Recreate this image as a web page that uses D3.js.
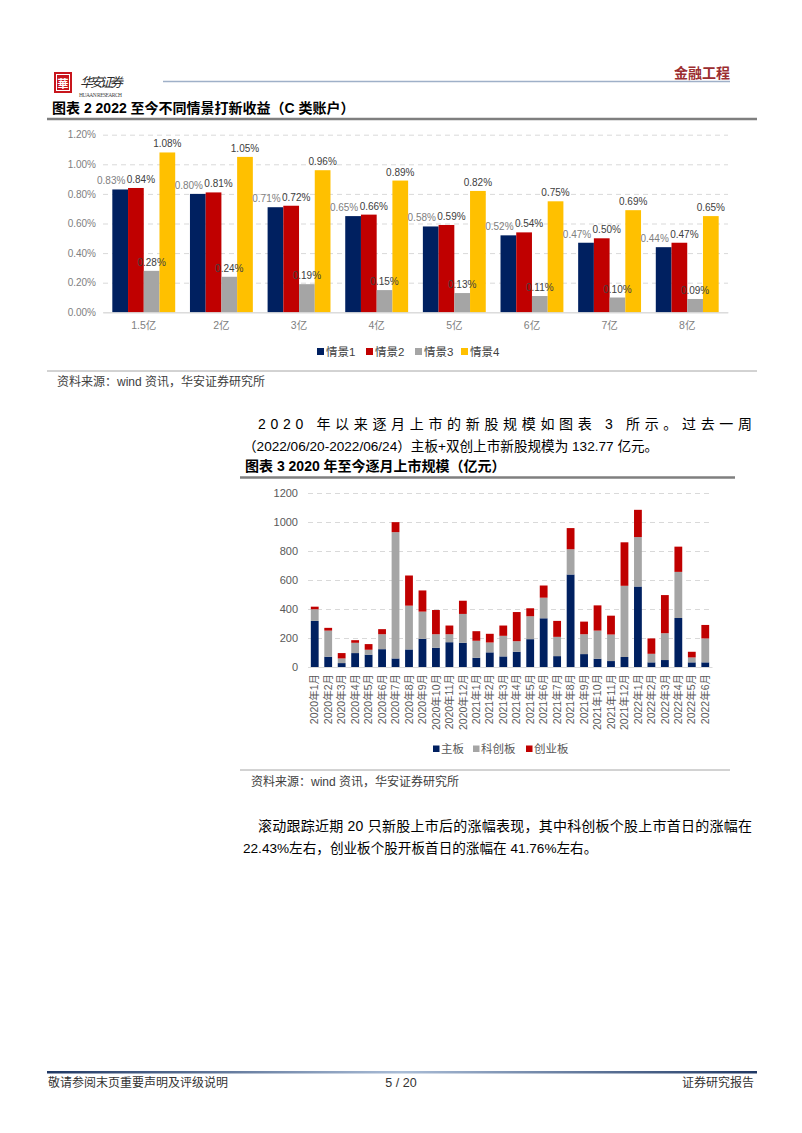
<!DOCTYPE html>
<html><head><meta charset="utf-8">
<script src="https://cdn.jsdelivr.net/npm/d3@7"></script>
<style>
html,body{margin:0;padding:0;background:#fff;}
svg text{font-family:"Liberation Sans","Noto Sans CJK SC",sans-serif;}
</style></head>
<body>
<svg id="page" width="802" height="1133"></svg>
<script>
// ---------- Data: chart 1 ----------
const scenCats = ["1.5亿","2亿","3亿","4亿","5亿","6亿","7亿","8亿"];
const scen1 = [0.83,0.80,0.71,0.65,0.58,0.52,0.47,0.44];
const scen2 = [0.84,0.81,0.72,0.66,0.59,0.54,0.50,0.47];
const scen3 = [0.28,0.24,0.19,0.15,0.13,0.11,0.10,0.09];
const scen4 = [1.08,1.05,0.96,0.89,0.82,0.75,0.69,0.65];
const scenNames = ["情景1","情景2","情景3","情景4"];
const yTicks1 = [0,0.2,0.4,0.6,0.8,1.0,1.2];

// ---------- Data: chart 2 ----------
const months = ["2020年1月","2020年2月","2020年3月","2020年4月","2020年5月","2020年6月","2020年7月","2020年8月","2020年9月","2020年10月","2020年11月","2020年12月",
"2021年1月","2021年2月","2021年3月","2021年4月","2021年5月","2021年6月","2021年7月","2021年8月","2021年9月","2021年10月","2021年11月","2021年12月",
"2022年1月","2022年2月","2022年3月","2022年4月","2022年5月","2022年6月"];
const mainBoard = [318,71,27,96,85,123,59,121,194,133,171,167,64,101,73,105,192,336,75,638,89,57,41,69,555,32,48,338,32,32];
const starBoard = [80,180,32,71,34,103,871,302,188,93,55,199,117,68,142,73,158,142,133,174,137,194,183,491,341,59,185,318,34,165];
const gemBoard  = [18,19,37,18,39,35,69,208,146,167,60,91,66,60,71,201,55,84,110,146,87,174,130,300,188,106,263,174,39,93];
const boardNames = ["主板","科创板","创业板"];
const yTicks2 = [0,200,400,600,800,1000,1200];

const C_NAVY="#002060", C_RED="#c00000", C_GRAY="#a5a5a5", C_YEL="#ffc000";
const svg = d3.select("#page");

// ---------- Header ----------
svg.append("rect").attr("x",54).attr("y",72).attr("width",18).attr("height",21).attr("fill","#c8161d");
svg.append("rect").attr("x",56.5).attr("y",74.5).attr("width",13).attr("height",16).attr("fill","none").attr("stroke","#fff").attr("stroke-width",1);
svg.append("text").attr("x",63).attr("y",87.5).attr("text-anchor","middle").attr("font-size",11).attr("font-weight","bold").attr("fill","#fff").text("華");
svg.append("text").attr("x",80).attr("y",87).attr("font-size",13).attr("font-style","italic").attr("fill","#2b2b2b").attr("textLength",43).text("华安证券");
svg.append("text").attr("x",79).attr("y",97).attr("font-size",5.5).attr("fill","#444").style("font-family","Liberation Serif").attr("textLength",43).text("HUAAN RESEARCH");
svg.append("line").attr("x1",163).attr("x2",730).attr("y1",81.5).attr("y2",81.5).attr("stroke","#9fb0c8").attr("stroke-width",1.6);
svg.append("text").attr("x",730).attr("y",78).attr("text-anchor","end").attr("font-size",14).attr("font-weight","bold").attr("fill","#9b2d30").text("金融工程");

// ---------- Chart 1 ----------
svg.append("text").attr("x",52).attr("y",113).attr("font-size",14).attr("font-weight","bold").attr("fill","#000").text("图表 2 2022 至今不同情景打新收益（C 类账户）");
svg.append("line").attr("x1",47).attr("x2",757).attr("y1",119).attr("y2",119).attr("stroke","#7f7f7f").attr("stroke-width",2.5);

const g1 = svg.append("g");
const x0 = d3.scaleBand().domain(scenCats).range([103,728]).paddingInner(0.19).paddingOuter(0.12);
const x1 = d3.scaleBand().domain(scenNames).range([0,x0.bandwidth()]).padding(0);
const y1 = d3.scaleLinear().domain([0,1.2]).range([312.3,134.7]);
const ax1 = g1.append("g").attr("transform","translate(103,0)")
  .call(d3.axisLeft(y1).tickValues(yTicks1).tickSizeInner(-625).tickSizeOuter(0).tickPadding(7).tickFormat(d=>d.toFixed(2)+"%"));
ax1.select(".domain").remove();
ax1.selectAll("line").attr("stroke","#d9d9d9").attr("stroke-dasharray",d=>d===0?null:"5,4");
ax1.selectAll("text").attr("font-size",10).attr("fill","#808080").style("font-family","Liberation Sans");

const series1 = [scen1,scen2,scen3,scen4];
const cols1 = [C_NAVY,C_RED,C_GRAY,C_YEL];
const lblDx = [-9,5,0,0];
const lblCol = ["#808080","#404040","#404040","#404040"];
const barsG = g1.append("g"), lblG = g1.append("g");
series1.forEach((arr,si)=>{
  barsG.append("g").selectAll("rect").data(arr).join("rect")
    .attr("x",(d,i)=>x0(scenCats[i])+x1(scenNames[si]))
    .attr("y",d=>y1(d)).attr("width",x1.bandwidth()).attr("height",d=>y1(0)-y1(d)).attr("fill",cols1[si]);
  lblG.append("g").selectAll("text").data(arr).join("text")
    .attr("x",(d,i)=>x0(scenCats[i])+x1(scenNames[si])+x1.bandwidth()/2+lblDx[si])
    .attr("y",d=>y1(d)-5).attr("text-anchor","middle").attr("font-size",10).attr("fill",lblCol[si])
    .text(d=>d.toFixed(2)+"%");
});
const xa1 = g1.append("g").attr("transform","translate(0,312.3)").call(d3.axisBottom(x0).tickSize(0).tickPadding(9));
xa1.select(".domain").attr("stroke","#d9d9d9");
xa1.selectAll("text").attr("font-size",10.5).attr("fill","#808080");

// legend 1
const lg1 = svg.append("g");
const lgX1 = [317,366,415,461];
scenNames.forEach((n,i)=>{
  lg1.append("rect").attr("x",lgX1[i]).attr("y",348).attr("width",7).attr("height",7).attr("fill",cols1[i]);
  lg1.append("text").attr("x",lgX1[i]+9).attr("y",355.5).attr("font-size",11.5).attr("fill","#404040").text(n);
});

svg.append("line").attr("x1",47).attr("x2",757).attr("y1",371).attr("y2",371).attr("stroke","#a6a6a6").attr("stroke-width",1);
svg.append("text").attr("x",57).attr("y",386).attr("font-size",12).attr("fill","#404040").text("资料来源：wind 资讯，华安证券研究所");

// ---------- Paragraph 1 ----------
svg.append("text").attr("x",258).attr("y",429).attr("font-size",14).attr("fill","#000")
  .attr("textLength",494).attr("lengthAdjust","spacing").text("2020 年以来逐月上市的新股规模如图表 3 所示。过去一周");
svg.append("text").attr("x",243).attr("y",451).attr("font-size",13.6).attr("fill","#000")
  .text("（2022/06/20-2022/06/24）主板+双创上市新股规模为 132.77 亿元。");

// ---------- Chart 2 ----------
svg.append("text").attr("x",245).attr("y",471).attr("font-size",14).attr("font-weight","bold").attr("fill","#000").text("图表 3 2020 年至今逐月上市规模（亿元）");
svg.append("line").attr("x1",240).attr("x2",735).attr("y1",477.5).attr("y2",477.5).attr("stroke","#7f7f7f").attr("stroke-width",2.5);

const g2 = svg.append("g");
const xb = d3.scaleBand().domain(months).range([308,712]).paddingInner(0.42).paddingOuter(0.21);
const yb = d3.scaleLinear().domain([0,1200]).range([667,493]);
const ax2 = g2.append("g").attr("transform","translate(308,0)")
  .call(d3.axisLeft(yb).tickValues(yTicks2).tickSizeInner(-404).tickSizeOuter(0).tickPadding(10).tickFormat(d3.format("d")));
ax2.select(".domain").remove();
ax2.selectAll("line").attr("stroke","#d9d9d9").attr("stroke-dasharray",d=>d===0?null:"5,4");
ax2.selectAll("text").attr("font-size",11).attr("fill","#595959");

const rows = months.map((m,i)=>({m, "主板":mainBoard[i], "科创板":starBoard[i], "创业板":gemBoard[i]}));
const stacked = d3.stack().keys(boardNames)(rows);
const cols2 = [C_NAVY,C_GRAY,C_RED];
stacked.forEach((layer,li)=>{
  g2.append("g").selectAll("rect").data(layer).join("rect")
    .attr("x",d=>xb(d.data.m)).attr("width",xb.bandwidth())
    .attr("y",d=>yb(d[1])).attr("height",d=>yb(d[0])-yb(d[1])).attr("fill",cols2[li]);
});
const xa2 = g2.append("g").attr("transform","translate(0,667)").call(d3.axisBottom(xb).tickSize(0));
xa2.select(".domain").attr("stroke","#d9d9d9");
xa2.selectAll("text").attr("transform","rotate(-90)").attr("x",-7).attr("y",0).attr("dy","0.35em")
  .attr("text-anchor","end").attr("font-size",10.5).attr("fill","#595959");

// legend 2
const lg2 = svg.append("g");
const lgX2 = [433,473,526];
boardNames.forEach((n,i)=>{
  lg2.append("rect").attr("x",lgX2[i]).attr("y",745.5).attr("width",6.5).attr("height",6.5).attr("fill",cols2[i]);
  lg2.append("text").attr("x",lgX2[i]+8).attr("y",753).attr("font-size",11.5).attr("fill","#595959").text(n);
});

svg.append("line").attr("x1",240).attr("x2",730).attr("y1",770).attr("y2",770).attr("stroke","#a6a6a6").attr("stroke-width",1);
svg.append("text").attr("x",251).attr("y",786).attr("font-size",12).attr("fill","#404040").text("资料来源：wind 资讯，华安证券研究所");

// ---------- Paragraph 2 ----------
svg.append("text").attr("x",258).attr("y",831).attr("font-size",14).attr("fill","#000")
  .attr("textLength",494).attr("lengthAdjust","spacing").text("滚动跟踪近期 20 只新股上市后的涨幅表现，其中科创板个股上市首日的涨幅在");
svg.append("text").attr("x",243).attr("y",853).attr("font-size",13.6).attr("fill","#000")
  .text("22.43%左右，创业板个股开板首日的涨幅在 41.76%左右。");

// ---------- Footer ----------
const defs = svg.append("defs");
const grad = defs.append("linearGradient").attr("id","fg").attr("x1","0%").attr("x2","100%");
grad.append("stop").attr("offset","0%").attr("stop-color","#1f3864");
grad.append("stop").attr("offset","50%").attr("stop-color","#a9bcd6");
grad.append("stop").attr("offset","100%").attr("stop-color","#1f3864");
svg.append("rect").attr("x",47).attr("y",1071).attr("width",710).attr("height",2.5).attr("fill","url(#fg)");
svg.append("text").attr("x",48).attr("y",1087).attr("font-size",12).attr("fill","#333").text("敬请参阅末页重要声明及评级说明");
svg.append("text").attr("x",401).attr("y",1087).attr("text-anchor","middle").attr("font-size",12.5).attr("fill","#333").text("5 / 20");
svg.append("text").attr("x",754).attr("y",1087).attr("text-anchor","end").attr("font-size",12).attr("fill","#333").text("证券研究报告");
</script>
</body></html>
